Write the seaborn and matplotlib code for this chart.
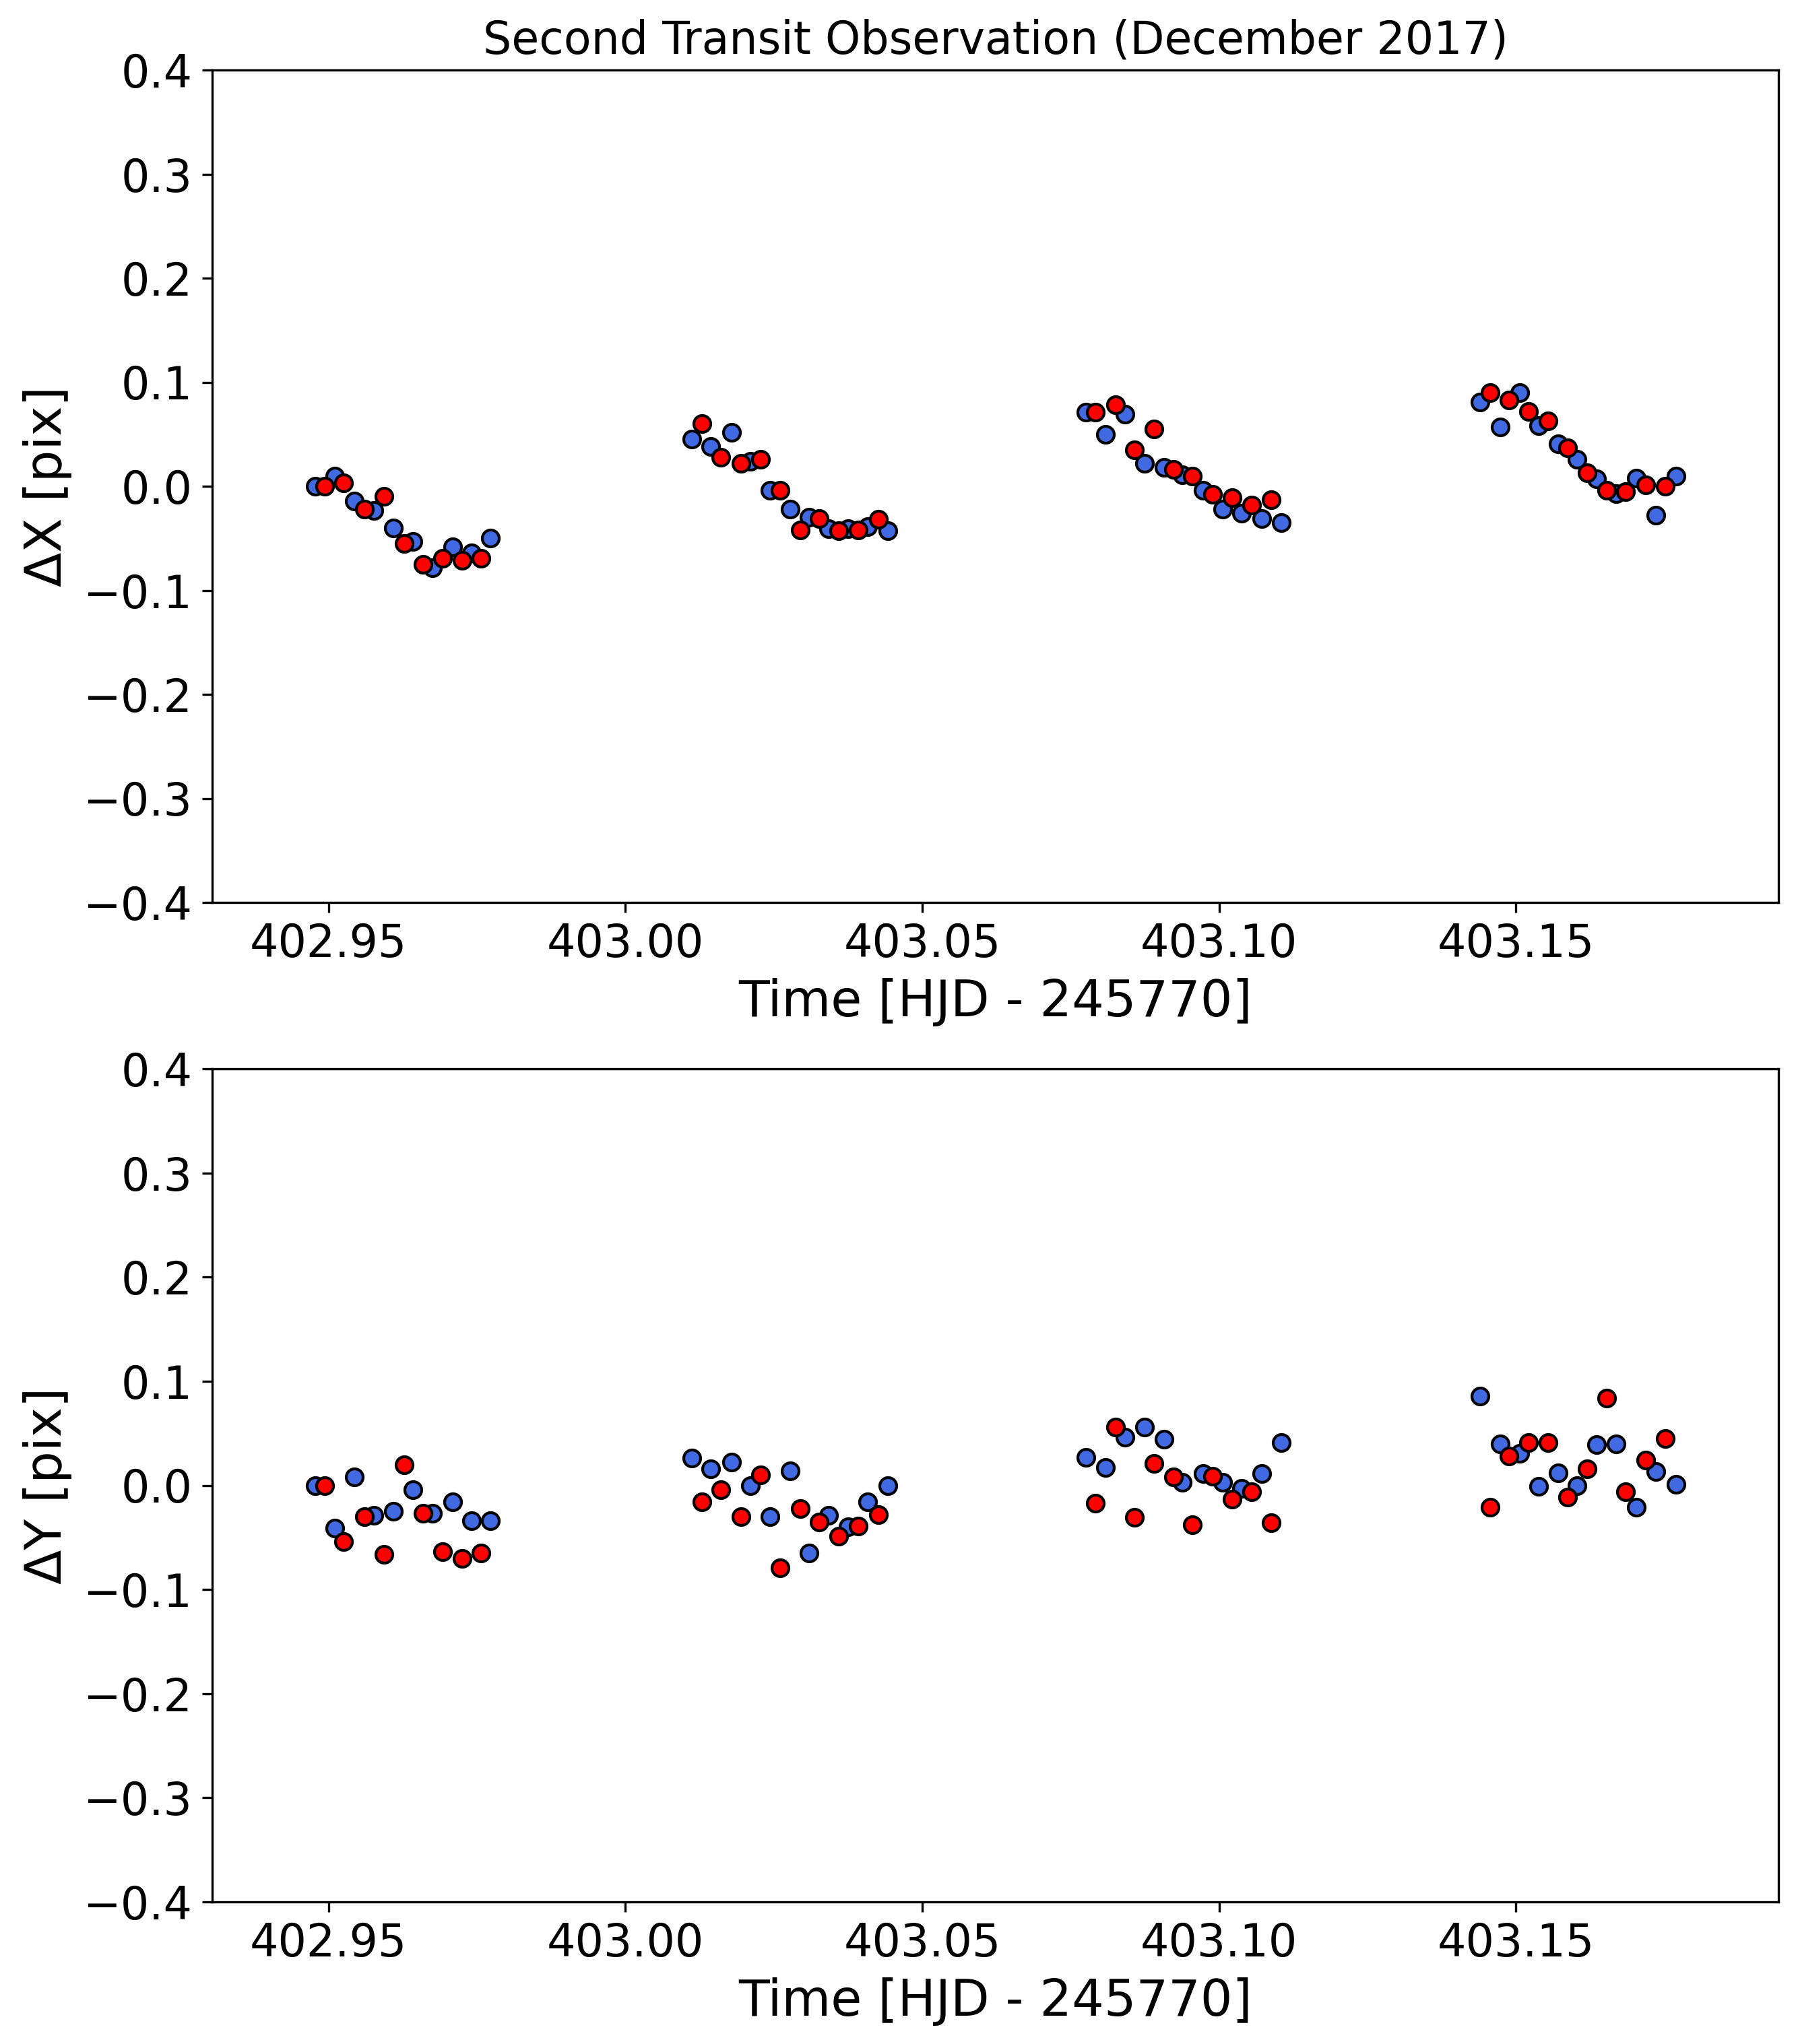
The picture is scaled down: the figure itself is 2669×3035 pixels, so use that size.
import numpy as np
import pandas as pd
import matplotlib
matplotlib.use("Agg")
import matplotlib.pyplot as plt
import seaborn as sns

# ---- data ----
time_blue = [402.9478, 402.9510, 402.9543, 402.9576, 402.9609, 402.9642, 402.9675, 402.9709, 402.9741, 402.9773,
             403.0112, 403.0144, 403.0179, 403.0211, 403.0243, 403.0277, 403.0309, 403.0342, 403.0375, 403.0408, 403.0442,
             403.0776, 403.0808, 403.0841, 403.0874, 403.0907, 403.0938, 403.0973, 403.1006, 403.1038, 403.1072, 403.1105,
             403.1439, 403.1473, 403.1506, 403.1538, 403.1571, 403.1603, 403.1636, 403.1669, 403.1703, 403.1736, 403.1769]
dx_blue = [0.000, 0.010, -0.014, -0.023, -0.040, -0.053, -0.078, -0.058, -0.064, -0.050,
           0.045, 0.038, 0.052, 0.024, -0.004, -0.022, -0.030, -0.041, -0.041, -0.039, -0.043,
           0.071, 0.050, 0.069, 0.022, 0.018, 0.011, -0.004, -0.022, -0.026, -0.031, -0.035,
           0.081, 0.057, 0.090, 0.058, 0.041, 0.026, 0.007, -0.007, 0.008, -0.028, 0.010]
dy_blue = [0.000, -0.041, 0.008, -0.029, -0.025, -0.004, -0.027, -0.016, -0.034, -0.034,
           0.026, 0.016, 0.022, 0.000, -0.030, 0.014, -0.065, -0.029, -0.040, -0.016, 0.000,
           0.027, 0.017, 0.046, 0.056, 0.044, 0.003, 0.011, 0.003, -0.003, 0.011, 0.041,
           0.086, 0.040, 0.031, -0.001, 0.012, 0.000, 0.039, 0.040, -0.021, 0.013, 0.001]

time_red = [402.9494, 402.9525, 402.9560, 402.9593, 402.9627, 402.9659, 402.9692, 402.9725, 402.9757,
            403.0129, 403.0161, 403.0195, 403.0228, 403.0261, 403.0294, 403.0326, 403.0359, 403.0392, 403.0426,
            403.0792, 403.0825, 403.0857, 403.0890, 403.0923, 403.0955, 403.0989, 403.1022, 403.1055, 403.1088,
            403.1456, 403.1488, 403.1521, 403.1554, 403.1587, 403.1620, 403.1653, 403.1685, 403.1719, 403.1751]
dx_red = [0.000, 0.003, -0.022, -0.010, -0.055, -0.075, -0.069, -0.071, -0.069,
          0.060, 0.028, 0.022, 0.026, -0.004, -0.042, -0.031, -0.043, -0.042, -0.032,
          0.071, 0.078, 0.035, 0.055, 0.016, 0.010, -0.008, -0.011, -0.018, -0.013,
          0.090, 0.083, 0.072, 0.063, 0.037, 0.013, -0.004, -0.005, 0.001, 0.000]
dy_red = [0.000, -0.054, -0.030, -0.066, 0.020, -0.027, -0.064, -0.070, -0.065,
          -0.016, -0.004, -0.030, 0.010, -0.079, -0.022, -0.035, -0.049, -0.039, -0.028,
          -0.017, 0.056, -0.031, 0.021, 0.008, -0.038, 0.009, -0.013, -0.006, -0.036,
          -0.021, 0.028, 0.041, 0.041, -0.011, 0.016, 0.084, -0.006, 0.024, 0.045]

x_ticks = [402.95, 403.00, 403.05, 403.10, 403.15]
y_ticks = [-0.4, -0.3, -0.2, -0.1, 0.0, 0.1, 0.2, 0.3, 0.4]

blue_df = pd.DataFrame({"t": time_blue, "dx": dx_blue, "dy": dy_blue})
red_df = pd.DataFrame({"t": time_red, "dx": dx_red, "dy": dy_red})

W, H, DPI = 2669, 3035, 300
fig = plt.figure(figsize=(W / DPI, H / DPI), dpi=DPI)

def px_axes(left, top, right, bottom):
    return fig.add_axes([left / W, 1 - bottom / H, (right - left) / W, (bottom - top) / H])

ax1 = px_axes(315, 104, 2640, 1340)
ax2 = px_axes(315, 1587, 2640, 2824)

for ax, col, ylab in [(ax1, "dx", "ΔX [pix]"), (ax2, "dy", "ΔY [pix]")]:
    sns.scatterplot(data=blue_df, x="t", y=col, ax=ax, color="royalblue",
                    edgecolor="black", linewidth=1.0, s=36, zorder=3)
    sns.scatterplot(data=red_df, x="t", y=col, ax=ax, color="red",
                    edgecolor="black", linewidth=1.0, s=36, zorder=4)
    ax.set_xlim(402.9304, 403.1942)
    ax.set_ylim(-0.4, 0.4)
    ax.set_xticks(x_ticks)
    ax.set_xticklabels([f"{v:.2f}" for v in x_ticks])
    ax.set_yticks(y_ticks)
    ax.tick_params(labelsize=16)
    ax.set_xlabel("Time [HJD - 245770]", fontsize=18)
    ax.set_ylabel(ylab, fontsize=18)

ax1.set_title("Second Transit Observation (December 2017)", fontsize=16)

fig.savefig("out.png", dpi=DPI)
